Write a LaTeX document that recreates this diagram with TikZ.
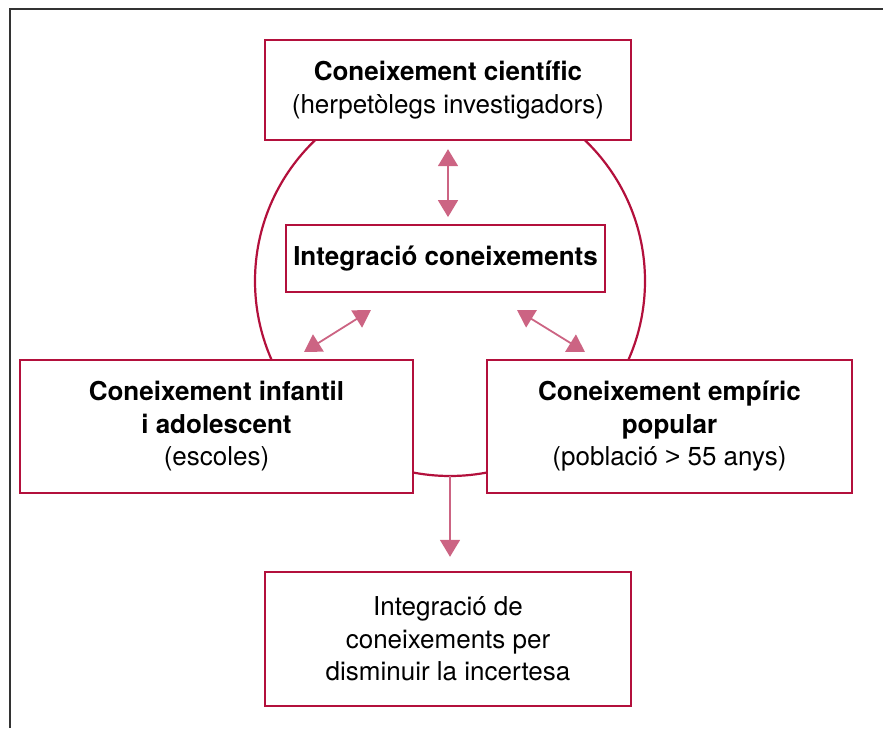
\documentclass[tikz,border=0pt]{standalone}
\usepackage{fontspec}
\setmainfont{TeX Gyre Heros}
\newfontfamily\gtfont{Liberation Sans}
\usepackage{tikz}
\usetikzlibrary{arrows.meta,positioning,calc}
\definecolor{boxred}{HTML}{B3103C}
\definecolor{arrpink}{HTML}{CC6483}
\begin{document}
\begin{tikzpicture}[x=1pt,y=1pt]
  \tikzstyle{kbox} = [draw=boxred,fill=white,line width=2.4pt,align=center,inner sep=0pt,font=\fontsize{26}{32.5}\selectfont]
  \tikzstyle{link} = [draw=arrpink,line width=1.8pt,{Triangle[width=20pt,length=17pt]}-{Triangle[width=20pt,length=17pt]}]
  \tikzstyle{flow} = [draw=arrpink,line width=1.8pt,-{Triangle[width=20pt,length=17pt]}]
  \useasboundingbox (0,0) rectangle (883,728);
  % frame
  \draw[black!80,line width=2.2pt] (10,0) -- (10,719) -- (883,719);
  % ring round the middle
  \draw[boxred,line width=2.2pt] (450,447) circle (195);
  \coordinate (ringS) at (450,252);

  \node[kbox,minimum width=366pt,minimum height=100pt] (sci) at (448,638)
       {\textbf{Coneixement científic}\\(herpetòlegs investigadors)};
  \node[kbox,minimum width=319pt,minimum height=67pt,line width=1.8pt] (integ) at (445.5,469.5)
       {\textbf{Integració coneixements}};
  \node[kbox,minimum width=393pt,minimum height=133pt] (child) at (216.5,301.5)
       {\textbf{Coneixement infantil}\\\textbf{i adolescent}\\(escoles)};
  \node[kbox,minimum width=365pt,minimum height=133pt] (pop) at (669.5,301.5)
       {\textbf{Coneixement empíric}\\\textbf{popular}\\(població {\gtfont >} 55 anys)};
  \node[kbox,minimum width=366pt,minimum height=134pt] (result) at (448,89)
       {Integració de\\coneixements per\\disminuir la incertesa};

  % arrows
  \draw[link,shorten <=8pt,shorten >=7pt] (sci.south) -- (sci.south |- integ.north);
  \coordinate (cl) at (304,376);
  \coordinate (cli) at (371,418);
  \coordinate (pri) at (517,418);
  \coordinate (pr) at (585,376);
  \draw[link] (cl) -- (cli);
  \draw[link] (pri) -- (pr);
  \draw[flow,shorten >=14pt] (ringS) -- (ringS |- result.north);
\end{tikzpicture}
\end{document}
